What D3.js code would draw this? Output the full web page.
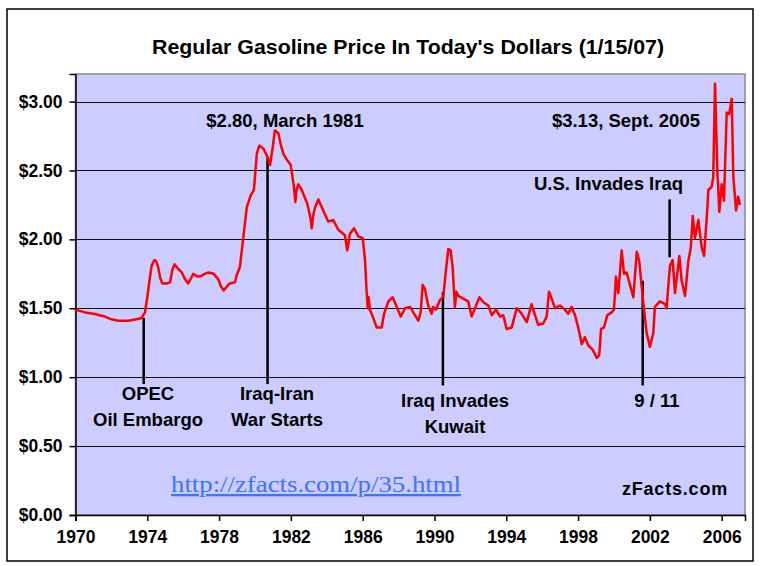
<!DOCTYPE html>
<html>
<head>
<meta charset="utf-8">
<script src="https://cdn.jsdelivr.net/npm/d3@7"></script>
<style>
	body { margin: 0; background: #fff; }
	text { font-family: "Liberation Sans", Arial, sans-serif; font-weight: bold; fill: #000; }
</style>
</head>
<body>
<div id="chart"></div>
<script>
// data (decimal year, price in 2007 dollars)
var years = [1970.00,1970.53,1971.00,1971.64,1972.00,1972.38,1972.94,1973.40,1973.69,1973.87,
	1974.00,1974.10,1974.24,1974.40,1974.50,1974.60,1974.72,1974.84,1975.10,1975.27,
	1975.40,1975.52,1975.70,1975.92,1976.10,1976.28,1976.45,1976.56,1976.80,1976.94,
	1977.20,1977.40,1977.70,1977.96,1978.10,1978.25,1978.45,1978.60,1978.89,1978.98,
	1979.16,1979.31,1979.40,1979.54,1979.76,1979.94,1980.03,1980.10,1980.24,1980.46,
	1980.69,1980.84,1980.99,1981.11,1981.30,1981.45,1981.58,1981.77,1981.99,1982.17,
	1982.25,1982.30,1982.41,1982.60,1982.91,1983.10,1983.16,1983.25,1983.34,1983.53,
	1983.80,1984.08,1984.36,1984.64,1985.01,1985.14,1985.29,1985.52,1985.76,1986.00,
	1986.13,1986.22,1986.28,1986.33,1986.40,1986.56,1986.78,1987.06,1987.19,1987.43,
	1987.67,1987.90,1988.12,1988.36,1988.64,1988.91,1989.10,1989.23,1989.34,1989.47,
	1989.65,1989.84,1989.93,1990.08,1990.30,1990.49,1990.64,1990.77,1990.90,1991.01,
	1991.14,1991.22,1991.33,1991.60,1991.88,1992.07,1992.26,1992.50,1992.76,1993.00,
	1993.19,1993.43,1993.65,1993.83,1994.02,1994.30,1994.58,1994.80,1995.14,1995.41,
	1995.60,1995.78,1996.06,1996.25,1996.38,1996.53,1996.71,1996.99,1997.27,1997.45,
	1997.64,1997.83,1998.01,1998.20,1998.38,1998.57,1998.81,1999.04,1999.18,1999.28,
	1999.44,1999.63,1999.87,2000.00,2000.11,2000.24,2000.43,2000.56,2000.71,2000.93,
	2001.08,2001.27,2001.41,2001.60,2001.82,2002.00,2002.19,2002.28,2002.56,2002.84,
	2002.93,2003.12,2003.27,2003.40,2003.64,2003.77,2003.96,2004.14,2004.28,2004.39,
	2004.51,2004.70,2004.89,2005.02,2005.16,2005.26,2005.44,2005.53,2005.63,2005.76,
	2005.87,2006.00,2006.13,2006.28,2006.42,2006.56,2006.65,2006.80,2006.92,2007.02];
var prices = [1.49,1.47,1.46,1.44,1.42,1.41,1.41,1.42,1.43,1.47,
	1.58,1.68,1.81,1.85,1.84,1.80,1.72,1.68,1.68,1.69,
	1.78,1.82,1.79,1.76,1.71,1.68,1.72,1.75,1.73,1.73,
	1.75,1.76,1.75,1.71,1.66,1.63,1.66,1.68,1.69,1.74,
	1.80,1.97,2.07,2.23,2.32,2.36,2.50,2.62,2.68,2.66,
	2.60,2.54,2.67,2.79,2.77,2.68,2.62,2.58,2.54,2.38,
	2.27,2.35,2.40,2.36,2.26,2.15,2.08,2.18,2.23,2.29,
	2.21,2.13,2.14,2.07,2.03,1.92,2.04,2.08,2.02,2.01,
	1.85,1.62,1.50,1.58,1.49,1.44,1.36,1.36,1.46,1.55,
	1.58,1.51,1.44,1.50,1.51,1.45,1.41,1.47,1.67,1.64,
	1.52,1.46,1.51,1.49,1.56,1.58,1.78,1.93,1.92,1.80,
	1.51,1.62,1.59,1.57,1.55,1.44,1.50,1.58,1.54,1.52,
	1.45,1.49,1.44,1.45,1.35,1.36,1.50,1.47,1.40,1.53,
	1.45,1.38,1.39,1.44,1.62,1.57,1.50,1.52,1.49,1.46,
	1.51,1.45,1.36,1.24,1.29,1.23,1.20,1.14,1.16,1.35,
	1.36,1.45,1.47,1.49,1.73,1.61,1.92,1.75,1.76,1.65,
	1.58,1.91,1.84,1.58,1.32,1.22,1.32,1.51,1.55,1.53,
	1.50,1.81,1.85,1.61,1.88,1.70,1.59,1.84,1.94,2.17,
	2.01,2.14,1.94,1.88,2.14,2.36,2.38,2.45,3.13,2.50,
	2.20,2.40,2.28,2.92,2.91,3.02,2.45,2.21,2.31,2.25];

var xTicks = [1970,1974,1978,1982,1986,1990,1994,1998,2002,2006];
var yTicks = [0,0.5,1,1.5,2,2.5,3];

// events: year, top of the marker line, bottom of it (in dollars)
var eventNames = ["OPEC|Oil Embargo", "Iraq-Iran|War Starts", "Iraq Invades|Kuwait", "9 / 11", "U.S. Invades Iraq"];
var eventYears = [1973.8, 1980.7, 1990.47, 2001.6, 2003.1];
var eventTops = [1.43, 2.59, 1.62, 1.70, 2.29];
var eventBottoms = [0.95, 0.95, 0.94, 0.94, 1.87];

var peakNotes = ["$2.80, March 1981", "$3.13, Sept. 2005"];

function GasChart(DOMelement) {
	var self = this;
	self._panel = DOMelement || "#chart";
	self.config = {
		width: 768, height: 566,
		left: 75.5, right: 745, top: 74, bottom: 515,
		labelSize: "18.5px"
	};

	this.Render = function() {
		var c = self.config;
		var svg = d3.select(self._panel).append("svg")
			.attr("width", c.width)
			.attr("height", c.height);

		// outer frame
		svg.append("rect")
			.attr("x", 7).attr("y", 9)
			.attr("width", 746).attr("height", 552)
			.attr("fill", "#fff")
			.attr("stroke", "#000")
			.attr("stroke-width", 1.5);

		svg.append("text")
			.attr("x", 152).attr("y", 54)
			.attr("textLength", 512)
			.attr("lengthAdjust", "spacingAndGlyphs")
			.style("font-size", "20px")
			.text("Regular Gasoline Price In Today's Dollars (1/15/07)");

		var x = d3.scaleLinear().domain([1970, 2007.3]).range([c.left, c.right]);
		var y = d3.scaleLinear().domain([0, 3.2]).range([c.bottom, c.top]);

		svg.append("rect")
			.attr("x", c.left).attr("y", c.top)
			.attr("width", c.right - c.left).attr("height", c.bottom - c.top)
			.attr("fill", "#ccccff")
			.attr("stroke", "#888")
			.attr("stroke-width", 1.5);

		// gridlines
		svg.selectAll("line.grid").data(yTicks.filter(function(d) { return d > 0; })).enter()
			.append("line")
			.attr("class", "grid")
			.attr("x1", c.left).attr("x2", c.right)
			.attr("y1", function(d) { return Math.round(y(d)) + 0.5; })
			.attr("y2", function(d) { return Math.round(y(d)) + 0.5; })
			.attr("stroke", "#111")
			.attr("stroke-width", 1.2);

		var yAxis = svg.append("g")
			.attr("transform", "translate(" + c.left + ",0)")
			.call(d3.axisLeft(y).tickValues(yTicks).tickFormat(d3.format("$.2f")).tickSize(6).tickPadding(7));
		var xAxis = svg.append("g")
			.attr("transform", "translate(0," + c.bottom + ")")
			.call(d3.axisBottom(x).tickValues(xTicks).tickFormat(d3.format("d")).tickSize(6).tickPadding(10));

		[yAxis, xAxis].forEach(function(a) {
			a.select(".domain").attr("stroke", "#000").attr("stroke-width", 1.5);
			a.selectAll(".tick line").attr("stroke", "#000").attr("stroke-width", 1.5);
			a.selectAll("text")
				.attr("fill", "#000")
				.style("font-family", "'Liberation Sans', Arial, sans-serif")
				.style("font-weight", "bold")
				.style("font-size", "17.5px");
		});

		// event marker lines
		var ev = eventNames.map(function(n, i) {
			return { name: n, year: eventYears[i], top: eventTops[i], bottom: eventBottoms[i] };
		});
		svg.selectAll("line.event").data(ev).enter()
			.append("line")
			.attr("class", "event")
			.attr("x1", function(d) { return x(d.year); })
			.attr("x2", function(d) { return x(d.year); })
			.attr("y1", function(d) { return y(d.top); })
			.attr("y2", function(d) { return y(d.bottom); })
			.attr("stroke", "#000")
			.attr("stroke-width", 2.5);

		// price line
		var pts = years.map(function(yr, i) { return [yr, prices[i]]; });
		var line = d3.line()
			.x(function(d) { return x(d[0]); })
			.y(function(d) { return y(d[1]); });
		svg.append("path")
			.datum(pts)
			.attr("d", line)
			.attr("fill", "none")
			.attr("stroke", "#ff0000")
			.attr("stroke-width", 2.5)
			.attr("stroke-linejoin", "round");

		// labels for events (text positions from the picture)
		var labelPos = [
			{ x: 148, y: 400, anchor: "middle" },
			{ x: 277, y: 400, anchor: "middle" },
			{ x: 455, y: 407, anchor: "middle" },
			{ x: 657, y: 407, anchor: "middle" },
			{ x: 683, y: 190, anchor: "end" }
		];
		ev.forEach(function(d, i) {
			var t = svg.append("text")
				.attr("x", labelPos[i].x).attr("y", labelPos[i].y)
				.attr("text-anchor", labelPos[i].anchor)
				.style("font-size", c.labelSize);
			d.name.split("|").forEach(function(part, j) {
				t.append("tspan")
					.attr("x", labelPos[i].x)
					.attr("dy", j === 0 ? 0 : 26)
					.text(part);
			});
		});

		svg.append("text")
			.attr("x", 285).attr("y", 127)
			.attr("text-anchor", "middle")
			.style("font-size", c.labelSize)
			.text(peakNotes[0]);
		svg.append("text")
			.attr("x", 700).attr("y", 127)
			.attr("text-anchor", "end")
			.style("font-size", c.labelSize)
			.text(peakNotes[1]);

		svg.append("text")
			.attr("x", 171).attr("y", 492)
			.attr("textLength", 290)
			.attr("lengthAdjust", "spacingAndGlyphs")
			.style("font-family", "'Liberation Serif', 'DejaVu Serif', serif")
			.style("font-weight", "normal")
			.style("font-size", "23px")
			.style("fill", "#3a74ff")
			.style("text-decoration", "underline")
			.text("http://zfacts.com/p/35.html");

		svg.append("text")
			.attr("x", 728).attr("y", 495)
			.attr("text-anchor", "end")
			.style("font-size", "18px")
			.style("letter-spacing", "0.8px")
			.text("zFacts.com");
	};
}

var chart = new GasChart("#chart");
chart.Render();
</script>
</body>
</html>
